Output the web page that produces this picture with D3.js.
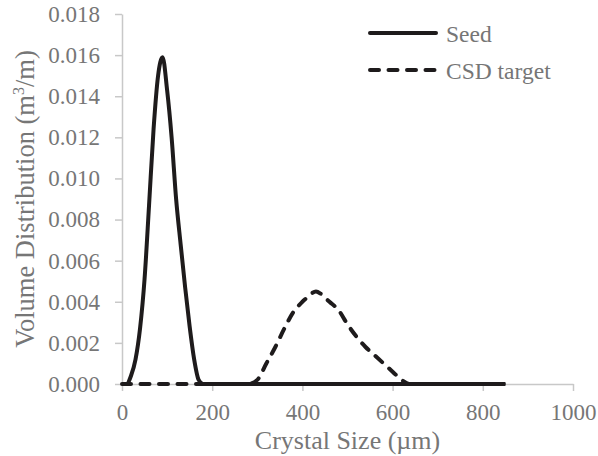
<!DOCTYPE html>
<html>
<head>
<meta charset="utf-8">
<script src="https://cdn.jsdelivr.net/npm/d3@7"></script>
<style>
  body { margin: 0; background: #fff; }
  svg text { font-family: "Liberation Serif", "Times New Roman", serif; fill: #767676; }
</style>
</head>
<body>
<svg></svg>
<script>
const width = 598
const height = 456

// crystal size (µm) and volume distribution (m3/m)
const seedSize = [0, 10, 20, 30, 40, 50, 60, 70, 80, 90, 100, 110, 120, 130, 140, 150, 160, 170, 180, 250, 400, 600, 850]
const seedValue = [0, 0.0000, 0.0004, 0.0012, 0.0027, 0.0051, 0.0087, 0.0124, 0.0150, 0.0159, 0.0143, 0.0120, 0.0090, 0.0068, 0.0047, 0.0028, 0.0012, 0.0002, 0, 0, 0, 0, 0]

const targetSize = [0, 100, 200, 280, 300, 320, 340, 360, 380, 400, 410, 420, 430, 440, 450, 460, 480, 500, 520, 540, 560, 580, 600, 620, 640, 700, 850]
const targetValue = [0, 0, 0, 0, 0.0002, 0.0010, 0.0018, 0.0027, 0.0035, 0.0040, 0.0042, 0.0044, 0.0045, 0.0044, 0.0042, 0.0040, 0.0036, 0.0029, 0.0023, 0.0018, 0.0014, 0.0010, 0.0006, 0.0002, 0, 0, 0]

const xTicks = [0, 200, 400, 600, 800, 1000]
const yTicks = [0, 0.002, 0.004, 0.006, 0.008, 0.010, 0.012, 0.014, 0.016, 0.018]

const seriesNames = ['Seed', 'CSD target']

const margin = { left: 122, right: 25, top: 14, bottom: 72 }

const svg = d3.select('svg').attr('width', width).attr('height', height)

const x = d3.scaleLinear().domain([0, 1000]).range([margin.left, width - margin.right])
const y = d3.scaleLinear().domain([0, 0.018]).range([height - margin.bottom, margin.top])

const axisColor = '#c8c8c8'
const lineColor = '#1e1b1c'

// axes
svg.append('g')
  .attr('transform', `translate(${margin.left},0)`)
  .call(d3.axisLeft(y).tickValues(yTicks).tickFormat(d3.format('.3f')).tickSize(7).tickSizeOuter(0).tickPadding(15))
svg.append('g')
  .attr('transform', `translate(0,${height - margin.bottom})`)
  .call(d3.axisBottom(x).tickValues(xTicks).tickFormat(d3.format('d')).tickSize(7).tickSizeOuter(0).tickPadding(13))

svg.selectAll('.domain').attr('stroke', axisColor).attr('stroke-width', 1.5)
svg.selectAll('.tick line').attr('stroke', axisColor).attr('stroke-width', 1.5)
svg.selectAll('.tick text').attr('font-size', 23).attr('font-family', null).attr('fill', null)

// axis titles
svg.append('text')
  .attr('x', (x(0) + x(1000)) / 2)
  .attr('y', 449)
  .attr('text-anchor', 'middle')
  .attr('font-size', 26)
  .text('Crystal Size (µm)')

const yt = svg.append('text')
  .attr('transform', `translate(34,${(y(0) + y(0.018)) / 2}) rotate(-90)`)
  .attr('text-anchor', 'middle')
  .attr('font-size', 26.5)
yt.append('tspan').text('Volume Distribution (m')
yt.append('tspan').attr('font-size', 16).attr('dy', -10).text('3')
yt.append('tspan').attr('dy', 10).text('/m)')

// lines
const line = d3.line().curve(d3.curveMonotoneX)

svg.append('path')
  .attr('d', line(targetSize.map((s, i) => [x(s), y(targetValue[i])])))
  .attr('fill', 'none')
  .attr('stroke', lineColor)
  .attr('stroke-width', 4)
  .attr('stroke-linecap', 'round')
  .attr('stroke-dasharray', '9,9.5')

svg.append('path')
  .attr('d', line(seedSize.map((s, i) => [x(s), y(seedValue[i])])))
  .attr('fill', 'none')
  .attr('stroke', lineColor)
  .attr('stroke-width', 4)
  .attr('stroke-linejoin', 'round')

// legend
const legend = svg.append('g')
seriesNames.forEach((name, i) => {
  const ly = 33 + i * 37
  legend.append('line')
    .attr('x1', 370).attr('x2', 436)
    .attr('y1', ly).attr('y2', ly)
    .attr('stroke', lineColor)
    .attr('stroke-width', 4)
    .attr('stroke-linecap', 'round')
    .attr('stroke-dasharray', i === 1 ? '9,9.5' : null)
  legend.append('text')
    .attr('x', 446)
    .attr('y', ly + 8.5)
    .attr('font-size', 23.5)
    .text(name)
})
</script>
</body>
</html>
